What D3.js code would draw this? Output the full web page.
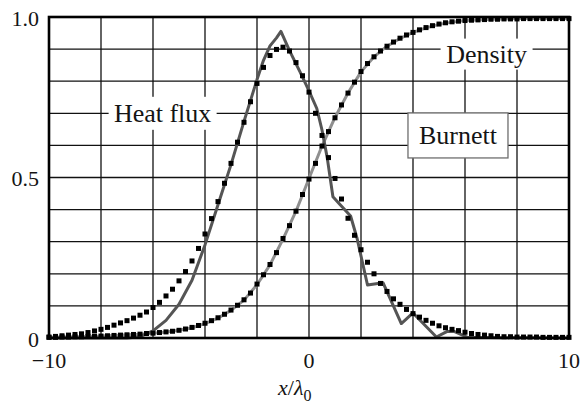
<!DOCTYPE html>
<html>
<head>
<meta charset="utf-8">
<script src="https://cdn.jsdelivr.net/npm/d3@7/dist/d3.min.js"></script>
<style>
  body { margin: 0; background: #fff; }
  svg text { font-family: 'Liberation Serif', 'Times New Roman', Times, serif; fill: #141414; }
</style>
</head>
<body>
<svg id="chart" width="583" height="405"></svg>
<script>
// Sample positions (x/λ0) of the DSMC profiles
const dsmcX = d3.range(-10, 10.001, 0.25);

// DSMC heat flux (squares)
const dsmcHeatFlux = [
  0.003, 0.005, 0.007, 0.009, 0.011, 0.013, 0.017, 0.022, 0.027, 0.033,
  0.040, 0.047, 0.054, 0.062, 0.071, 0.081, 0.095, 0.111, 0.131, 0.152,
  0.178, 0.207, 0.240, 0.279, 0.324, 0.372, 0.425, 0.482, 0.544, 0.610,
  0.672, 0.736, 0.793, 0.843, 0.880, 0.899, 0.906, 0.894, 0.858, 0.817,
  0.766, 0.700, 0.631, 0.562, 0.497, 0.433, 0.373, 0.320, 0.275, 0.236,
  0.200, 0.170, 0.145, 0.122, 0.105, 0.089, 0.076, 0.065, 0.055, 0.046,
  0.038, 0.032, 0.027, 0.023, 0.018, 0.014, 0.011, 0.009, 0.007, 0.005,
  0.004, 0.004, 0.003, 0.003, 0.003, 0.003, 0.002, 0.002, 0.002, 0.002,
  0.002
];

// DSMC density (squares)
const dsmcDensity = [
  0.002, 0.002, 0.003, 0.003, 0.004, 0.004, 0.005, 0.005, 0.006, 0.007,
  0.008, 0.009, 0.010, 0.011, 0.012, 0.014, 0.015, 0.017, 0.019, 0.021,
  0.024, 0.028, 0.033, 0.039, 0.046, 0.054, 0.063, 0.074, 0.087, 0.102,
  0.119, 0.140, 0.168, 0.197, 0.229, 0.266, 0.310, 0.350, 0.395, 0.447,
  0.495, 0.544, 0.598, 0.643, 0.686, 0.726, 0.763, 0.797, 0.830, 0.855,
  0.876, 0.894, 0.909, 0.922, 0.934, 0.944, 0.952, 0.960, 0.967, 0.973,
  0.978, 0.982, 0.985, 0.987, 0.989, 0.990, 0.991, 0.992, 0.993, 0.993,
  0.994, 0.994, 0.994, 0.995, 0.995, 0.995, 0.995, 0.995, 0.995, 0.995,
  0.995
];

// Burnett density profile, sampled every 0.5
const burnettDensityX = d3.range(-10, 10.001, 0.5);
const burnettDensity = [
  0.002, 0.003, 0.004, 0.005, 0.006, 0.008, 0.010, 0.012, 0.015, 0.019,
  0.024, 0.032, 0.045, 0.062, 0.086, 0.118, 0.166, 0.228, 0.308, 0.395,
  0.497, 0.598, 0.687, 0.763, 0.829, 0.876, 0.909, 0.933, 0.952, 0.966,
  0.977, 0.984, 0.989, 0.991, 0.993, 0.994, 0.995, 0.995, 0.995, 0.995,
  0.995
];

// Burnett heat flux profile (x, value)
const burnettHeatX = [
  -10, -7, -6.5, -6, -5.5, -5, -4.5, -4, -3.5, -3, -2.5, -2, -1.75, -1.5,
  -1.25, -1.08, -0.75, -0.35, 0, 0.3, 0.5, 0.7, 0.92, 1.2, 1.6, 1.85,
  2.25, 2.85, 3.55, 4.0, 4.9, 5.3, 5.6, 6.1, 10
];
const burnettHeat = [
  0, 0, 0.004, 0.022, 0.055, 0.105, 0.18, 0.29, 0.415, 0.54, 0.675, 0.805, 0.865, 0.91,
  0.935, 0.955, 0.895, 0.83, 0.77, 0.715, 0.648, 0.562, 0.44, 0.415, 0.38, 0.31,
  0.165, 0.172, 0.045, 0.078, 0.003, 0.02, 0.02, 0.002, 0
];

// Axis ticks
const xTickValues = [-10, 0, 10];
const xTickLabels = ["\u221210", "0", "10"];
const yTickValues = [1.0, 0.5, 0];
const yTickLabels = ["1.0", "0.5", "0"];
const xGrid = [-8, -6, -4, -2, 0, 2, 4, 6, 8];
const yGrid = [0.1, 0.2, 0.3, 0.4, 0.5, 0.6, 0.7, 0.8, 0.9];

const W = 583, H = 405;
const margin = { left: 49, top: 17, right: 14, bottom: 67 };

const x = d3.scaleLinear().domain([-10, 10]).range([margin.left, W - margin.right]);
const y = d3.scaleLinear().domain([0, 1]).range([H - margin.bottom, margin.top]);

const svg = d3.select("#chart");

// Grid
const grid = svg.append("g").attr("stroke", "#111").attr("stroke-width", 1.3);
grid.selectAll("line.v").data(xGrid).join("line")
  .attr("x1", d => x(d)).attr("x2", d => x(d))
  .attr("y1", y(0)).attr("y2", y(1));
grid.selectAll("line.h").data(yGrid).join("line")
  .attr("x1", x(-10)).attr("x2", x(10))
  .attr("y1", d => y(d)).attr("y2", d => y(d));

// Annotation labels with a white backing
function label(text, cx, cy, boxW, boxH, bordered) {
  const g = svg.append("g");
  g.append("rect")
    .attr("x", cx - boxW / 2).attr("y", cy - boxH / 2)
    .attr("width", boxW).attr("height", boxH)
    .attr("fill", "#fff")
    .attr("stroke", bordered ? "#6e6e6e" : "none")
    .attr("stroke-width", 1.3);
  g.append("text")
    .attr("x", cx).attr("y", cy + 8.5)
    .attr("text-anchor", "middle")
    .attr("font-size", 26)
    .text(text);
}
label("Heat flux", x(-5.63), y(0.7), 108, 33, false);
label("Density", x(6.83), y(0.9) + 5, 92, 31, false);
label("Burnett", x(5.73), y(0.631), 100, 45, true);

// Burnett curves
const line = d3.line().x(d => x(d[0])).y(d => y(d[1]));
svg.append("path")
  .datum(burnettDensityX.map((v, i) => [v, burnettDensity[i]]))
  .attr("fill", "none").attr("stroke", "#8f8f8f").attr("stroke-width", 3)
  .attr("stroke-linejoin", "round")
  .attr("d", line);
svg.append("path")
  .datum(burnettHeatX.map((v, i) => [v, burnettHeat[i]]))
  .attr("fill", "none").attr("stroke", "#555").attr("stroke-width", 3)
  .attr("stroke-linejoin", "round")
  .attr("d", line);

// DSMC squares
const sq = 5;
function squares(values) {
  svg.append("g").selectAll("rect")
    .data(dsmcX.map((v, i) => [v, values[i]]))
    .join("rect")
    .attr("x", d => x(d[0]) - sq / 2)
    .attr("y", d => y(d[1]) - sq / 2)
    .attr("width", sq).attr("height", sq)
    .attr("fill", "#000");
}
squares(dsmcDensity);
squares(dsmcHeatFlux);

// Frame
svg.append("rect")
  .attr("x", x(-10)).attr("y", y(1))
  .attr("width", x(10) - x(-10)).attr("height", y(0) - y(1))
  .attr("fill", "none").attr("stroke", "#000").attr("stroke-width", 2.6);

// Tick labels
svg.append("g").selectAll("text").data(yTickValues).join("text")
  .attr("x", margin.left - 10)
  .attr("y", d => y(d) + 8.5)
  .attr("text-anchor", "end")
  .attr("font-size", 22)
  .text((d, i) => yTickLabels[i]);

svg.append("g").selectAll("text").data(xTickValues).join("text")
  .attr("x", d => x(d))
  .attr("y", y(0) + 30)
  .attr("text-anchor", "middle")
  .attr("font-size", 22)
  .text((d, i) => xTickLabels[i]);

// Axis title x/λ0
const title = svg.append("text")
  .attr("x", x(0) - 31).attr("y", 395)
  .attr("font-size", 22);
title.append("tspan").attr("font-style", "italic").text("x");
title.append("tspan").text("/");
title.append("tspan").attr("font-style", "italic").text("\u03bb");
title.append("tspan").attr("font-size", 16).attr("dy", 6).text("0");
</script>
</body>
</html>
